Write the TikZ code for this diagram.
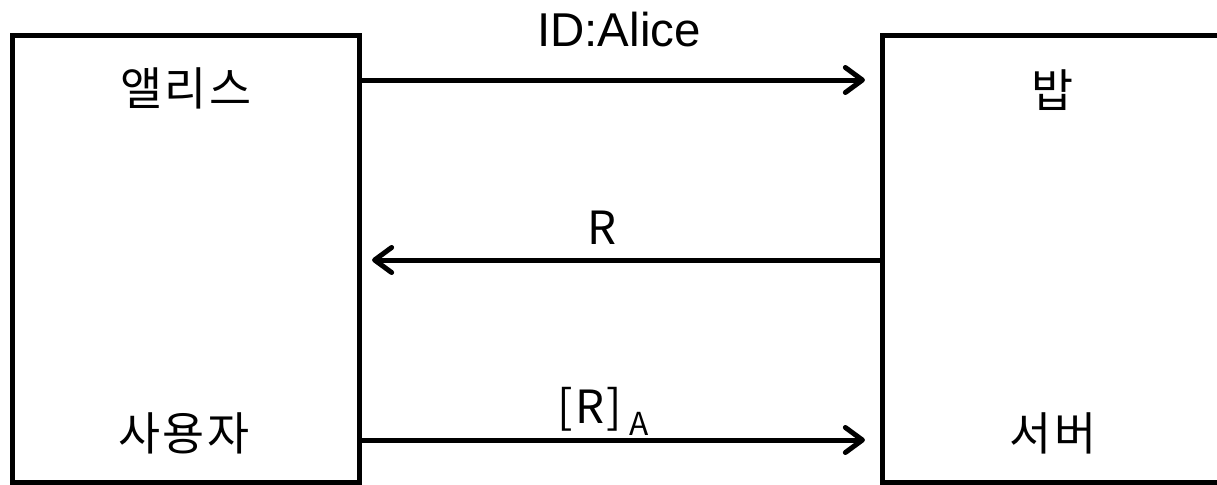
\documentclass[tikz,border=0pt]{standalone}
\usepackage{fontspec}
\setmainfont{Liberation Sans}
\newfontfamily\kr[LetterSpace=5.0]{Noto Sans CJK KR}
\usetikzlibrary{arrows.meta}

\begin{document}
\begin{tikzpicture}[x=0.01cm,y=-0.01cm]

\tikzset{party/.style = {shape=rectangle,draw,line width=0.05cm,minimum width=3.47cm,minimum height=4.465cm,inner sep=0}}
\tikzset{msg/.style = {line width=0.05cm,-{Straight Barb[length=0.17cm,width=0.25cm,round]}}}
\tikzset{word/.style = {font=\kr\fontsize{13}{15}\selectfont,inner sep=0}}

\useasboundingbox (0,0) rectangle (1217,484);

% parties
\node[party] (alice) at (186,258.75) {};
\node[party] (bob) at (1056,258.75) {};

% names
\node[word] (alicename) at (186,88) {앨리스};
\node[word] (user) at (184,433) {사용자};
\node[word] (bobname) at (1053,90) {밥};
\node[word] (server) at (1053,433) {서버};

% messages
\node[font=\fontsize{13.5}{16}\selectfont,inner sep=0,anchor=base] (id) at (619,46) {ID:Alice};
\node[word,anchor=base] (chal) at (602,244) {R};
\node[word,anchor=base] (resp) at (603,423) {[R]\,\raisebox{-3.6pt}{\fontsize{9}{10}\selectfont A}};

% arcs
\draw[msg,shorten >=0.15cm] (alice.east |- 0,80) to (bob.west |- 0,80);
\draw[msg,shorten >=0.1cm] (bob.west |- 0,260) to (alice.east |- 0,260);
\draw[msg,shorten >=0.15cm] (alice.east |- 0,440) to (bob.west |- 0,440);

\end{tikzpicture}
\end{document}
